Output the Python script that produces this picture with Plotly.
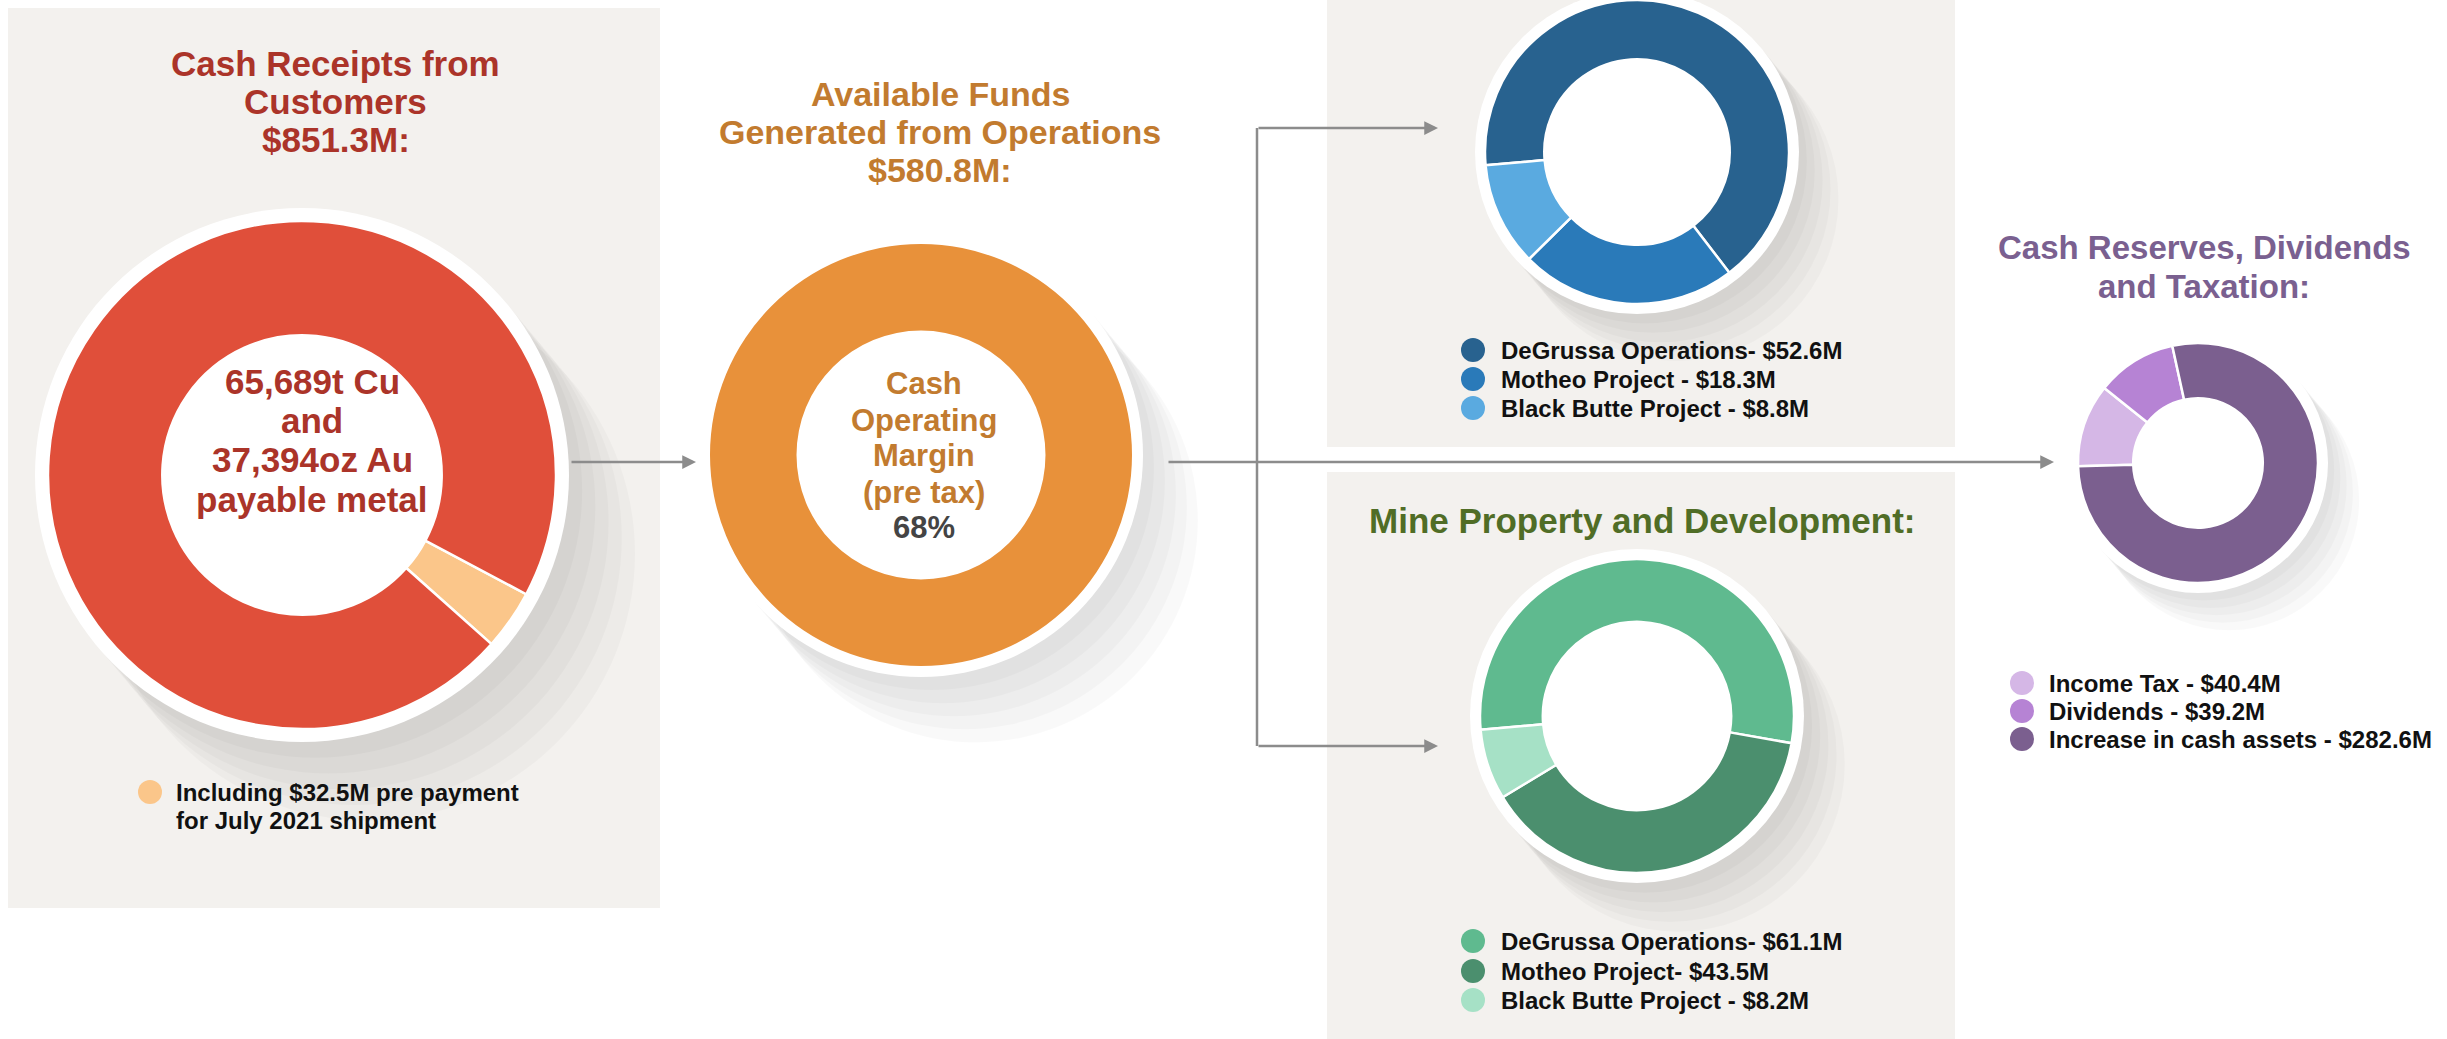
import plotly.graph_objects as go

W, H = 2447, 1039

# ---------------- data ----------------
receipts_labels = ["Pre payment for July 2021 shipment", "Other receipts from customers"]
receipts_values = [32.5, 818.8]          # total $851.3M
funds_labels = ["Cash Operating Margin"]
funds_values = [580.8]
expl_labels = ["DeGrussa Operations", "Motheo Project", "Black Butte Project"]
expl_values = [52.6, 18.3, 8.8]
mine_labels = ["DeGrussa Operations", "Motheo Project", "Black Butte Project"]
mine_values = [61.1, 43.5, 8.2]
cash_labels = ["Income Tax", "Dividends", "Increase in cash assets"]
cash_values = [40.4, 39.2, 282.6]

receipts_title = ["Cash Receipts from", "Customers", "$851.3M:"]
receipts_center = ["65,689t Cu", "and", "37,394oz Au", "payable metal"]
receipts_note = ["Including $32.5M pre payment", "for July 2021 shipment"]
funds_title = ["Available Funds", "Generated from Operations", "$580.8M:"]
funds_center = ["Cash", "Operating", "Margin", "(pre tax)"]
funds_pct = "68%"
expl_legend = ["DeGrussa Operations- $52.6M", "Motheo Project - $18.3M", "Black Butte Project - $8.8M"]
mine_title = "Mine Property and Development:"
mine_legend = ["DeGrussa Operations- $61.1M", "Motheo Project- $43.5M", "Black Butte Project - $8.2M"]
cash_title = ["Cash Reserves, Dividends", "and Taxation:"]
cash_legend = ["Income Tax - $40.4M", "Dividends - $39.2M", "Increase in cash assets - $282.6M"]

# ---------------- styles ----------------
FONT = "Liberation Sans, Arial, Helvetica, sans-serif"
PANEL = "#f3f1ee"
LINE = "#8c8c8c"
RED_C = ["#fbc68a", "#e04f3a"]
RED_TXT = "#ab3429"
ORANGE_C = ["#e8913a"]
ORANGE_TXT = "#c27b2f"
BLUE_C = ["#28628f", "#2a7ab9", "#5aaae0"]
GREEN_C = ["#5fba8f", "#4b8f6e", "#a6e1c6"]
GREEN_TXT = "#506d26"
PURPLE_C = ["#d5b7e6", "#b683d4", "#7b5f8f"]
PURPLE_TXT = "#7a6090"
LEG_TXT = "#111111"

fig = go.Figure()
shapes = []
annotations = []


def px(x):
    return x / W


def py(y):
    return 1 - y / H


def rect(x0, y0, x1, y1, color):
    shapes.append(dict(type="rect", xref="paper", yref="paper",
                       x0=px(x0), x1=px(x1), y0=py(y1), y1=py(y0),
                       fillcolor=color, line=dict(width=0), layer="below"))


def circle(cx, cy, r, color, layer="below"):
    shapes.append(dict(type="circle", xref="paper", yref="paper",
                       x0=px(cx - r), x1=px(cx + r), y0=py(cy + r), y1=py(cy - r),
                       fillcolor=color, line=dict(width=0), layer=layer))


def text(x, y, s, size, color, anchor="center"):
    annotations.append(dict(xref="paper", yref="paper", x=px(x), y=py(y), text=s,
                            showarrow=False, xanchor=anchor, yanchor="middle",
                            font=dict(family=FONT, size=size, color=color)))


def lines_block(x, ys, strings, size, color, anchor="center"):
    for y, s in zip(ys, strings):
        text(x, y, "<b>%s</b>" % s, size, color, anchor)


def hline(x0, y0, x1, y1):
    shapes.append(dict(type="line", xref="paper", yref="paper",
                       x0=px(x0), x1=px(x1), y0=py(y0), y1=py(y1),
                       line=dict(color=LINE, width=2.5)))


def arrow(x0, y0, x1, y1):
    annotations.append(dict(xref="paper", yref="paper", x=px(x1), y=py(y1),
                            ax=x0 - x1, ay=y0 - y1, text="", showarrow=True,
                            arrowhead=2, arrowsize=1.1, arrowwidth=2.5, arrowcolor=LINE))


def donut(labels, values, colors, cx, cy, r, hole, rotation, rim, sep=2.5):
    # soft long drop shadow towards the lower right
    for k in range(1, 6):
        circle(cx + 0.052 * k * r, cy + 0.062 * k * r, r + rim, "rgba(0,0,0,0.024)")
    circle(cx, cy, r + rim, "white")
    fig.add_trace(go.Pie(
        labels=labels, values=values, sort=False, direction="clockwise",
        rotation=rotation, hole=hole, textinfo="none", showlegend=False,
        marker=dict(colors=colors, line=dict(color="white", width=sep)),
        domain=dict(x=[px(cx - r), px(cx + r)], y=[py(cy + r), py(cy - r)]),
    ))


def legend(xc, xt, ys, strings, colors, size=24, r=12):
    for y, s, c in zip(ys, strings, colors):
        circle(xc, y, r, c, layer="above")
        text(xt, y, "<b>%s</b>" % s, size, LEG_TXT, anchor="left")


# ---------------- panels ----------------
rect(8, 8, 660, 908, PANEL)
rect(1327, 0, 1955, 447, PANEL)
rect(1327, 472, 1955, 1039, PANEL)

# ---------------- donuts ----------------
donut(receipts_labels, receipts_values, RED_C, 302, 475, 254, 0.55, 118, 13)
donut(funds_labels, funds_values, ORANGE_C, 921, 455, 211, 0.59, 0, 11, sep=0)
donut(expl_labels, expl_values, BLUE_C, 1637, 152, 152, 0.61, -95, 10)
donut(mine_labels, mine_values, GREEN_C, 1637, 716, 157, 0.6, -95, 10)
donut(cash_labels, cash_values, PURPLE_C, 2198, 463, 120, 0.54, -91.5, 10)

# ---------------- connectors ----------------
arrow(570, 462, 696, 462)
arrow(1167, 462, 2054, 462)
hline(1257, 128, 1257, 746)
arrow(1257, 128, 1438, 128)
arrow(1257, 746, 1438, 746)

# ---------------- texts ----------------
lines_block(336, [64, 102, 140], receipts_title, 35, RED_TXT)
lines_block(312, [381, 421, 460, 499], receipts_center, 35, RED_TXT)
circle(150, 792, 12, RED_C[0], layer="above")
lines_block(174, [792, 820], receipts_note, 24, LEG_TXT, anchor="left")

lines_block(940, [94, 132, 170], funds_title, 34, ORANGE_TXT)
lines_block(924, [383, 420, 456, 492], funds_center, 31, ORANGE_TXT)
text(924, 527, "<b>%s</b>" % funds_pct, 31, "#444444")

legend(1473, 1499, [350, 379, 408], expl_legend, BLUE_C)

lines_block(1642, [520], [mine_title], 35, GREEN_TXT)
legend(1473, 1499, [941, 971, 1000], mine_legend, GREEN_C)

lines_block(2204, [247, 286], cash_title, 33, PURPLE_TXT)
legend(2022, 2047, [683, 711, 739], cash_legend, PURPLE_C)

fig.update_layout(
    width=W, height=H, autosize=False,
    margin=dict(l=0, r=0, t=0, b=0),
    paper_bgcolor="white", plot_bgcolor="white",
    shapes=shapes, annotations=annotations, showlegend=False,
)

fig.write_html(
    "out.html",
    config={"displayModeBar": False},
    post_script="document.body.style.margin='0';document.body.style.overflow='hidden';",
)
